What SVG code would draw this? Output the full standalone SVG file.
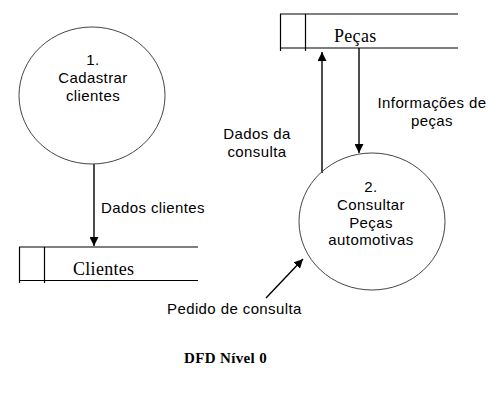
<svg xmlns="http://www.w3.org/2000/svg" width="499" height="407" viewBox="0 0 499 407">
<style>
.proc{fill:none;stroke:#444;stroke-width:1}
.store{stroke:#000;stroke-width:1.2;fill:none}
.flow{stroke:#000;stroke-width:1.4;fill:none}
.sans{font-family:"Liberation Sans",Arial,sans-serif;font-size:15px;letter-spacing:0.4px;fill:#000}
.serif{font-family:"Liberation Serif","Times New Roman",serif;font-size:18px;letter-spacing:0.3px;fill:#000}
.title{font-family:"Liberation Serif","Times New Roman",serif;font-size:15px;font-weight:bold;letter-spacing:0.35px;fill:#000}
</style>
<defs>
<marker id="arrow" viewBox="0 0 10 10" refX="10" refY="5" markerWidth="9" markerHeight="9" markerUnits="userSpaceOnUse" orient="auto">
<path d="M0,0 L10,5 L0,10 z" fill="#000"/>
</marker>
</defs>
<rect width="499" height="407" fill="#fff"/>
<g id="connectors">
<line class="flow" x1="94" y1="164" x2="94" y2="246" marker-end="url(#arrow)"/>
<line class="flow" x1="322" y1="173" x2="322" y2="52" marker-end="url(#arrow)"/>
<line class="flow" x1="359" y1="48" x2="359" y2="153" marker-end="url(#arrow)"/>
<line class="flow" x1="266" y1="298" x2="303" y2="259" marker-end="url(#arrow)"/>
<text class="sans" x="101" y="213">Dados clientes</text>
<text class="sans" text-anchor="middle" x="257" y="139">Dados da</text>
<text class="sans" text-anchor="middle" x="257" y="157">consulta</text>
<text class="sans" text-anchor="middle" x="432" y="108">Informações de</text>
<text class="sans" text-anchor="middle" x="432" y="126">peças</text>
<text class="sans" x="167" y="314">Pedido de consulta</text>
</g>
<g id="proc1">
<ellipse class="proc" cx="92" cy="95.5" rx="73" ry="68.5"/>
<text class="sans" text-anchor="middle" x="93" y="65">1.</text>
<text class="sans" text-anchor="middle" x="93" y="82.5">Cadastrar</text>
<text class="sans" text-anchor="middle" x="93" y="101">clientes</text>
</g>
<g id="proc2">
<ellipse class="proc" cx="372" cy="221.5" rx="73" ry="68.5"/>
<text class="sans" text-anchor="middle" x="371" y="192">2.</text>
<text class="sans" text-anchor="middle" x="371" y="210">Consultar</text>
<text class="sans" text-anchor="middle" x="371" y="227.5">Peças</text>
<text class="sans" text-anchor="middle" x="371" y="245">automotivas</text>
</g>
<g id="store-pecas">
<line class="store" x1="280" y1="14" x2="458" y2="14" stroke="#777" stroke-width="1.6"/>
<line class="store" x1="280" y1="48" x2="458" y2="48"/>
<line class="store" x1="280.5" y1="14" x2="280.5" y2="51"/>
<line class="store" x1="305.5" y1="14" x2="305.5" y2="51"/>
<text class="serif" x="334" y="42">Peças</text>
</g>
<g id="store-clientes">
<line class="store" x1="19" y1="247" x2="198" y2="247"/>
<line class="store" x1="19" y1="280.5" x2="198" y2="280.5"/>
<line class="store" x1="19.5" y1="247" x2="19.5" y2="283"/>
<line class="store" x1="44.5" y1="247" x2="44.5" y2="283"/>
<text class="serif" x="73" y="275">Clientes</text>
</g>
<g id="title">
<text class="title" x="184" y="363">DFD Nível 0</text>
</g>
</svg>
